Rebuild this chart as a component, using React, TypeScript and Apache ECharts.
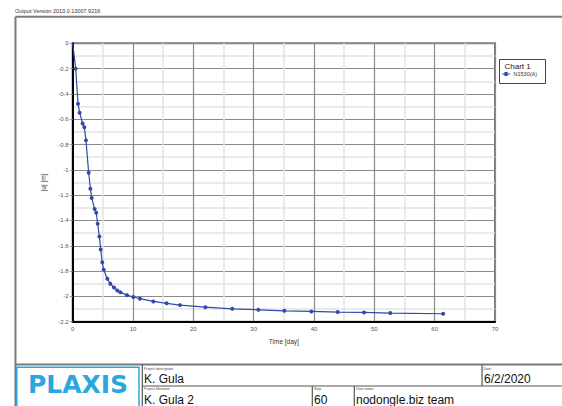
import React, { useEffect, useRef } from "react";
import * as echarts from "echarts";

const seriesName = "N1530(A)";
const timeDays = [0, 0.5, 0.88, 1.15, 1.65, 1.93, 2.2, 2.65, 2.93, 3.15, 3.64, 3.9, 4.14, 4.42, 4.64, 4.9, 5.13, 5.74, 6.23, 6.85, 7.4, 7.9, 9.0, 10.05, 11.15, 13.36, 15.57, 17.78, 22.0, 26.45, 30.77, 35.08, 39.55, 43.92, 48.3, 52.65, 61.4];
const dispU = [0, -0.2, -0.477, -0.548, -0.633, -0.664, -0.767, -1.023, -1.149, -1.222, -1.31, -1.339, -1.426, -1.526, -1.63, -1.73, -1.79, -1.86, -1.9, -1.93, -1.953, -1.968, -1.99, -2.005, -2.018, -2.04, -2.055, -2.069, -2.085, -2.098, -2.106, -2.114, -2.119, -2.124, -2.127, -2.132, -2.137];

const FRAME = "#7a7a7a";
const CELL = "#555555";

export default function App() {
  const ref = useRef<HTMLDivElement>(null);
  useEffect(() => {
    if (!ref.current) return;
    const chart = echarts.init(ref.current, undefined, { renderer: "svg" });
    const data = timeDays.map((t, i) =>
      i === 0 ? { value: [t, dispU[i]], symbolSize: 0 } : { value: [t, dispU[i]] }
    );
    const line = (x1: number, y1: number, x2: number, y2: number, color = CELL, w = 1.2) => ({
      type: "line",
      shape: { x1, y1, x2, y2 },
      style: { stroke: color, lineWidth: w },
      silent: true,
    });
    const small = (x: number, y: number, text: string) => ({
      type: "text",
      x,
      y,
      style: { text, fontSize: 3.6, fill: "#444", fontFamily: "Liberation Sans", verticalAlign: "middle" },
    });
    const big = (x: number, y: number, text: string) => ({
      type: "text",
      x,
      y,
      style: { text, fontSize: 12, fill: "#111", fontFamily: "Liberation Sans", verticalAlign: "middle" },
    });
    chart.setOption({
      animation: false,
      backgroundColor: "#ffffff",
      grid: {
        left: 72.7,
        top: 43.3,
        width: 422.3,
        height: 278.4,
        show: true,
        borderColor: "#777",
        borderWidth: 2,
        backgroundColor: "transparent",
      },
      legend: {
        show: true,
        left: 502,
        top: 71,
        itemWidth: 9,
        itemHeight: 4,
        itemGap: 2,
        padding: 0,
        textStyle: { fontSize: 5.5, color: "#333", fontFamily: "Liberation Sans", padding: [0, 0, 0, -2] },
        data: [{ name: seriesName, icon: "path://M0,2h10v1h-10z M3,0h4v5h-4z" }],
      },
      xAxis: {
        type: "value",
        min: 0,
        max: 70,
        interval: 10,
        name: "Time [day]",
        nameLocation: "middle",
        nameGap: 16,
        nameTextStyle: { fontSize: 6.5, color: "#333", fontFamily: "Liberation Sans" },
        axisLine: { show: true, onZero: false, lineStyle: { color: "#000", width: 2 } },
        axisTick: { show: false },
        axisLabel: { fontSize: 6, color: "#555", margin: 4, fontFamily: "Liberation Sans" },
        splitLine: { show: true, lineStyle: { color: "#8a8a8a", width: 1.2 } },
        minorTick: { show: false, splitNumber: 2 },
        minorSplitLine: { show: true, lineStyle: { color: "#e3e3e3", width: 1.5 } },
      },
      yAxis: {
        type: "value",
        min: -2.2,
        max: 0,
        interval: 0.2,
        name: "|u| [m]",
        nameLocation: "middle",
        nameGap: 25,
        nameRotate: 90,
        nameTextStyle: { fontSize: 6.5, color: "#333", fontFamily: "Liberation Sans" },
        axisLine: { show: true, onZero: false, lineStyle: { color: "#000", width: 2 } },
        axisTick: { show: true, length: 3, lineStyle: { color: "#999", width: 1 } },
        axisLabel: {
          fontSize: 6,
          color: "#555",
          margin: 4,
          fontFamily: "Liberation Sans",
          formatter: (v: number) => String(Math.round(v * 10) / 10),
        },
        splitLine: { show: true, lineStyle: { color: "#8a8a8a", width: 1.2 } },
        minorTick: { show: false, splitNumber: 2 },
        minorSplitLine: { show: true, lineStyle: { color: "#e3e3e3", width: 1.5 } },
      },
      series: [
        {
          name: seriesName,
          type: "line",
          data,
          symbol: "circle",
          symbolSize: 4,
          showSymbol: true,
          lineStyle: { color: "#2f4ba6", width: 1.2 },
          itemStyle: { color: "#2f4ba6" },
          z: 5,
        },
      ],
      graphic: [
        {
          type: "text",
          x: 15,
          y: 11,
          style: { text: "Output Version 2013.0.13007.9216", fontSize: 5.5, fill: "#333", fontFamily: "Liberation Sans", verticalAlign: "middle" },
        },
        line(15.5, 16.8, 562, 16.8, FRAME, 2),
        line(15.5, 16.8, 15.5, 406, FRAME, 2),
        {
          type: "rect",
          shape: { x: 499.5, y: 59.5, width: 46, height: 24 },
          style: { fill: "rgba(255,255,255,0)", stroke: "#444", lineWidth: 1 },
          silent: true,
        },
        {
          type: "text",
          x: 504.5,
          y: 66.5,
          style: { text: "Chart 1", fontSize: 8, fill: "#222", fontFamily: "Liberation Sans", verticalAlign: "middle" },
        },
        line(15.5, 364.6, 562, 364.6, FRAME, 2),
        {
          type: "rect",
          shape: { x: 16.8, y: 367.3, width: 122.2, height: 42 },
          style: { fill: "#fff", stroke: "#2aa7df", lineWidth: 1.5 },
          silent: true,
        },
        {
          type: "text",
          x: 78,
          y: 384.5,
          style: {
            text: "PLAXIS",
            fontSize: 25,
            fontWeight: "bold",
            fill: "#2aa7df",
            fontFamily: "DejaVu Sans",
            align: "center",
            verticalAlign: "middle",
          },
        },
        line(142.3, 364.6, 142.3, 406),
        line(482, 364.6, 482, 386),
        line(142.3, 386, 562, 386),
        line(312.3, 386, 312.3, 406),
        line(354.3, 386, 354.3, 406),
        small(143.8, 368.5, "Project description"),
        big(144, 378.5, "K. Gula"),
        small(483.5, 368.5, "Date"),
        big(484, 378.5, "6/2/2020"),
        small(143.8, 389, "Project filename"),
        big(144, 399.5, "K. Gula 2"),
        small(313.8, 389, "Step"),
        big(314, 399.5, "60"),
        small(355.8, 389, "User name"),
        big(356, 399.5, "nodongle.biz team"),
      ],
    });
    return () => chart.dispose();
  }, []);
  return (
    <div
      ref={ref}
      style={{ position: "absolute", left: 0, top: 0, width: 562, height: 406 }}
    />
  );
}
